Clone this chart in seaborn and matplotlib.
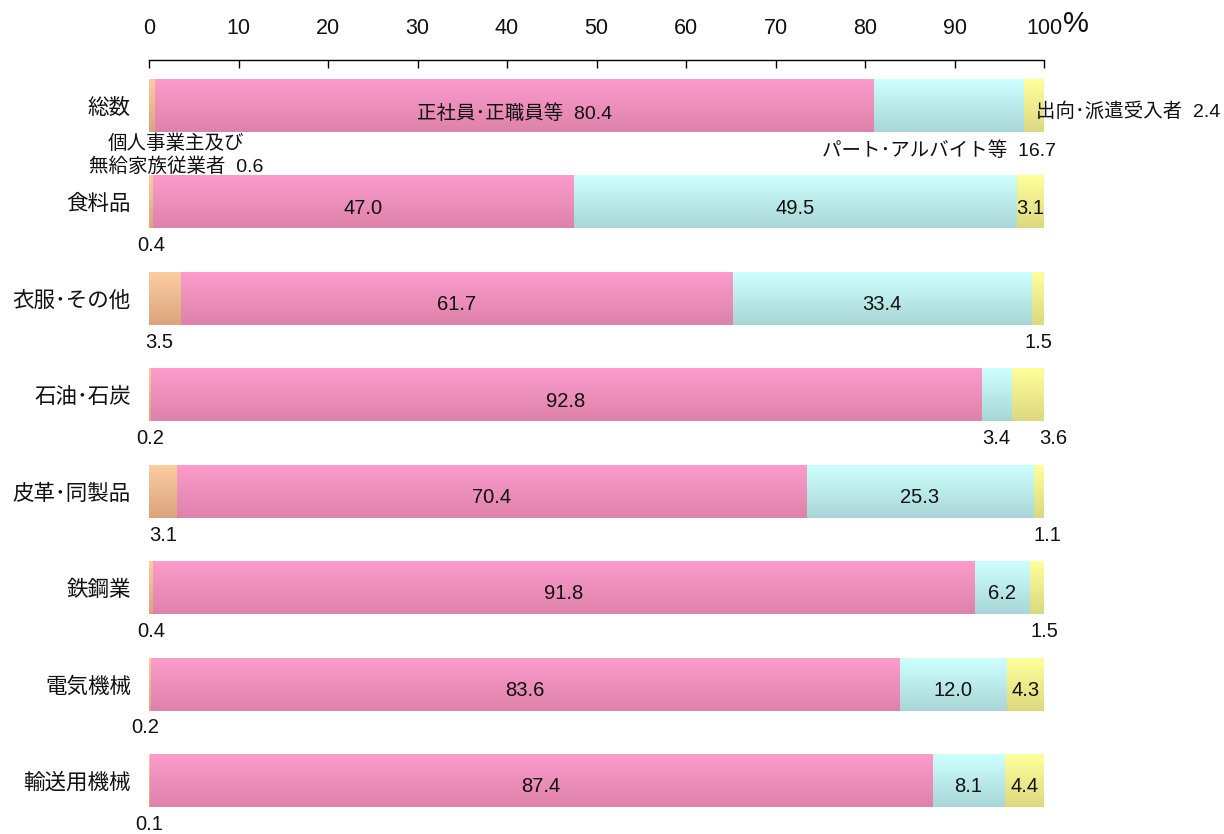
import numpy as np
import pandas as pd
import matplotlib
matplotlib.use('Agg')
import matplotlib.pyplot as plt
import seaborn as sns
from matplotlib.colors import LinearSegmentedColormap

categories = ['総数', '食料品', '衣服･その他', '石油･石炭', '皮革･同製品', '鉄鋼業', '電気機械', '輸送用機械']
self_employed = [0.6, 0.4, 3.5, 0.2, 3.1, 0.4, 0.2, 0.1]
regular = [80.4, 47.0, 61.7, 92.8, 70.4, 91.8, 83.6, 87.4]
part_time = [16.7, 49.5, 33.4, 3.4, 25.3, 6.2, 12.0, 8.1]
dispatched = [2.4, 3.1, 1.5, 3.6, 1.1, 1.5, 4.3, 4.4]
series_names = ['個人事業主及び\n無給家族従業者', '正社員･正職員等', 'パート･アルバイト等', '出向･派遣受入者']
x_ticks = [0, 10, 20, 30, 40, 50, 60, 70, 80, 90, 100]

sns.set_theme(style='white')
plt.rcParams['font.family'] = ['Liberation Sans', 'Noto Sans CJK JP']

fig = plt.figure(figsize=(12.24, 8.34), dpi=100)
ax = fig.add_axes([149 / 1224, 0.0, (1044 - 149) / 1224, 1 - 60 / 834])

series = np.array([self_employed, regular, part_time, dispatched])
cum = np.cumsum(series, axis=0)
grads = [('#FBCDA0', '#DCA47E'), ('#FC9CCC', '#DD82AA'),
         ('#CEFFFF', '#A9D6D6'), ('#FFFF9A', '#DCD880')]
grad = np.linspace(0, 1, 256).reshape(-1, 1)

for order, k in enumerate(range(3, -1, -1)):
    n0 = len(ax.patches)
    df = pd.DataFrame({'value': cum[k], 'category': categories})
    sns.barplot(data=df, x='value', y='category', orient='h', width=0.54,
                color=grads[k][0], ax=ax)
    cmap = LinearSegmentedColormap.from_list(f'g{k}', list(grads[k]))
    for p in ax.patches[n0:]:
        x0, y0 = p.get_x(), p.get_y()
        w, h = p.get_width(), p.get_height()
        ax.imshow(grad, extent=(x0, x0 + w, y0 + h, y0), origin='upper',
                  cmap=cmap, aspect='auto', interpolation='bilinear',
                  zorder=2 + order)
        p.set_visible(False)

ax.set_xlim(0, 100)
ax.set_ylim(7.55, -0.477)

# axes styling
ax.xaxis.tick_top()
ax.set_xticks(x_ticks)
ax.set_xticklabels([str(t) for t in x_ticks])
ax.tick_params(axis='x', direction='in', length=6, width=1, color='black',
               pad=15, labelsize=15.5, labelcolor='#111111', top=True, bottom=False)
ax.tick_params(axis='y', length=0, pad=13, labelsize=15.5, labelcolor='#111111')
ax.set_xlabel('')
ax.set_ylabel('')
for s in ['left', 'right', 'bottom']:
    ax.spines[s].set_visible(False)
ax.spines['top'].set_color('black')
ax.spines['top'].set_linewidth(1)
ax.text(1.036, 1.046, '%', transform=ax.transAxes, fontsize=21, ha='center', va='center',
        color='#111111')

fs = 14.5
tc = '#111111'
# outside labels (row, series) -> below the bar
outside = {(0, 0), (0, 2), (0, 3),
           (1, 0), (2, 0), (2, 3), (3, 0), (3, 2), (3, 3),
           (4, 0), (4, 3), (5, 0), (5, 3), (6, 0), (7, 0)}
below_dx = {(3, 3): 2.8, (4, 3): 1.0, (5, 3): 0.9, (6, 0): -0.5, (2, 0): -0.6}

for i in range(len(categories)):
    for k in range(4):
        v = series[k, i]
        xc = cum[k, i] - v / 2
        lab = f'{v:.1f}'
        if i == 0:
            continue
        if (i, k) in outside:
            ax.text(xc + below_dx.get((i, k), 0), i + 0.45, lab, ha='center', va='center',
                    fontsize=fs, color=tc, zorder=10)
        else:
            ax.text(xc, i + 0.06, lab, ha='center', va='center', fontsize=fs,
                    color=tc, zorder=10)

# 総数 row with series names
fs2 = 14
ax.text(cum[1, 0] - series[1, 0] / 2, 0.08, f'{series_names[1]}  {series[1, 0]:.1f}',
        ha='center', va='center', fontsize=fs2, color=tc, zorder=10)
ax.text(cum[2, 0] + 3.6, 0.46, f'{series_names[2]}  {series[2, 0]:.1f}',
        ha='right', va='center', fontsize=fs2, color=tc, zorder=10)
ax.text(cum[2, 0] + 1.4, 0.06, f'{series_names[3]}  {series[3, 0]:.1f}',
        ha='left', va='center', fontsize=fs2, color=tc, zorder=10)
ax.text(3.0, 0.51, f'{series_names[0]}  {series[0, 0]:.1f}', ha='center', va='center',
        fontsize=fs2, color=tc, zorder=10, linespacing=1.35)

fig.savefig('out.png', dpi=100)
